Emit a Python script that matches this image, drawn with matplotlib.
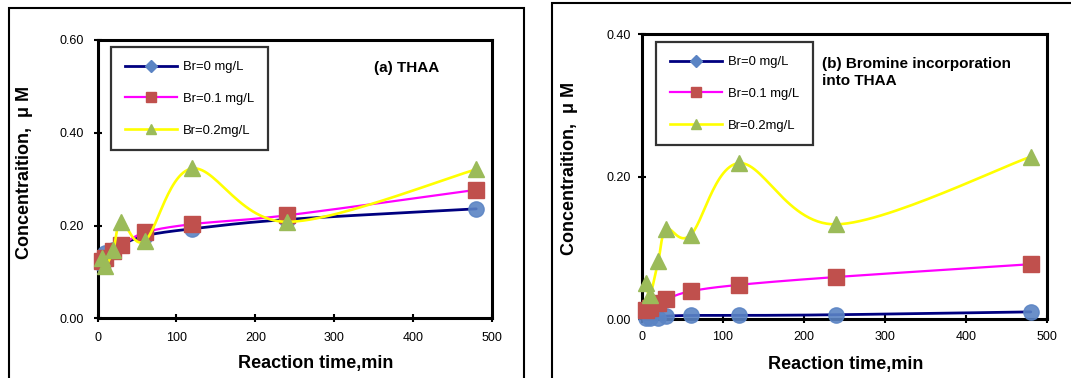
import numpy as np
import matplotlib
matplotlib.use('Agg')
import matplotlib.pyplot as plt
from matplotlib.lines import Line2D
from matplotlib.patches import Rectangle

plt.rcParams['font.family'] = ['Liberation Sans', 'DejaVu Sans']

# ---------------- data ----------------
times = [5, 10, 20, 30, 60, 120, 240, 480]
series_labels = ['Br=0 mg/L', 'Br=0.1 mg/L', 'Br=0.2mg/L']

thaa_br0 = [0.118, 0.140, 0.148, 0.158, 0.178, 0.193, 0.213, 0.236]
thaa_br01 = [0.123, 0.130, 0.146, 0.157, 0.185, 0.203, 0.222, 0.277]
thaa_br02 = [0.129, 0.113, 0.148, 0.208, 0.167, 0.323, 0.208, 0.321]

binc_br0 = [0.001, 0.001, 0.002, 0.004, 0.005, 0.005, 0.006, 0.010]
binc_br01 = [0.013, 0.015, 0.022, 0.028, 0.039, 0.048, 0.059, 0.077]
binc_br02 = [0.050, 0.034, 0.081, 0.126, 0.118, 0.219, 0.133, 0.228]

xticks = [0, 100, 200, 300, 400, 500]
yticks_a = [0.0, 0.2, 0.4, 0.6]
yticks_b = [0.0, 0.2, 0.4]

# ---------------- styles ----------------
line_colors = ['#000080', '#FF00FF', '#FFFF00']
line_widths = [2.0, 1.6, 1.9]
markers = ['o', 's', '^']
marker_colors = ['#5B84C4', '#C0504D', '#9BBB59']
marker_sizes = [11, 11, 12]
legend_markers = ['D', 's', '^']
legend_msizes = [6, 7, 7.5]

W, H = 1071, 378
fig = plt.figure(figsize=(W / 100, H / 100), dpi=100)


def fx(px):
    return px / W


def fy(py):
    return 1 - py / H


def smooth(ax, x, y, n=30):
    trans = ax.transData
    pts = trans.transform(np.column_stack([x, y]))
    P = np.vstack([pts[0], pts, pts[-1]])
    out = [pts[0]]
    tt = np.linspace(0, 1, n)[1:]
    for i in range(1, len(P) - 2):
        p0, p1, p2, p3 = P[i - 1], P[i], P[i + 1], P[i + 2]
        c1 = p1 + (p2 - p0) / 6
        c2 = p2 - (p3 - p1) / 6
        for t in tt:
            b = ((1 - t) ** 3) * p1 + 3 * ((1 - t) ** 2) * t * c1 + 3 * (1 - t) * t ** 2 * c2 + t ** 3 * p2
            out.append(b)
    out = np.array(out)
    d = trans.inverted().transform(out)
    return d[:, 0], d[:, 1]


def make_panel(box, ylim, yticks, data, ypad, xpad, title, title_xy, leg_anchor):
    l, t, r, b = box
    ax = fig.add_axes([fx(l), fy(b), fx(r) - fx(l), fy(t) - fy(b)])
    ax.set_xlim(0, 500)
    ax.set_ylim(*ylim)
    ax.set_xticks(xticks)
    ax.set_yticks(yticks)
    ax.set_yticklabels([f'{v:.2f}' for v in yticks])
    for s in ax.spines.values():
        s.set_linewidth(2.2)
        s.set_color('black')
    ax.tick_params(direction='inout', length=6, width=1.5, labelsize=9, colors='black')
    ax.tick_params(axis='y', pad=ypad)
    ax.tick_params(axis='x', pad=xpad)
    for i, vals in enumerate(data):
        sx, sy = smooth(ax, times, vals)
        ax.plot(sx, sy, color=line_colors[i], lw=line_widths[i], zorder=2 + i * 2, solid_capstyle='round')
        ax.plot(times, vals, linestyle='none', marker=markers[i], ms=marker_sizes[i],
                mfc=marker_colors[i], mec=marker_colors[i], alpha=0.9 if i == 0 else 1.0,
                zorder=3 + i * 2, clip_on=False)
    handles = [Line2D([0], [0], color=line_colors[i], lw=line_widths[i], marker=legend_markers[i],
                      ms=legend_msizes[i], mfc=marker_colors[i], mec=marker_colors[i])
               for i in range(3)]
    leg = ax.legend(handles, series_labels, loc='upper left', bbox_to_anchor=leg_anchor,
                    borderaxespad=0, frameon=True, fancybox=False, fontsize=9.4,
                    handlelength=4.0, handletextpad=0.45, labelspacing=1.5,
                    borderpad=1.05, edgecolor='black')
    leg.get_frame().set_linewidth(1.6)
    leg.set_zorder(20)
    ax.text(title_xy[0], title_xy[1], title, transform=ax.transAxes, fontsize=11,
            fontweight='bold', ha='left', va='center', linespacing=1.2)
    return ax


# panel (a)
make_panel((97.6, 40, 492, 318.3), (0, 0.6), yticks_a, [thaa_br0, thaa_br01, thaa_br02],
           ypad=7.2, xpad=6.6, title='(a) THAA', title_xy=(0.70, 0.898),
           leg_anchor=(0.034, 0.974))
# panel (b)
make_panel((642, 34.3, 1047, 319), (0, 0.4), yticks_b, [binc_br0, binc_br01, binc_br02],
           ypad=5.0, xpad=6.0, title='(b) Bromine incorporation\ninto THAA',
           title_xy=(0.444, 0.866), leg_anchor=(0.0346, 0.972))

# axis labels
fig.text(fx(25), fy(172.5), 'Concentraition,  \u03bc M', rotation=90, fontsize=13,
         fontweight='bold', ha='center', va='center')
fig.text(fx(315.8), fy(363.3), 'Reaction time,min', fontsize=13, fontweight='bold',
         ha='center', va='center')
fig.text(fx(569), fy(168.3), 'Concentraition,  \u03bc M', rotation=90, fontsize=13,
         fontweight='bold', ha='center', va='center')
fig.text(fx(845.4), fy(365), 'Reaction time,min', fontsize=13, fontweight='bold',
         ha='center', va='center')

# outer frames
fig.patches.append(Rectangle((fx(8.5), fy(420)), fx(524) - fx(8.5), fy(8.3) - fy(420),
                             transform=fig.transFigure, fill=False, edgecolor='black',
                             linewidth=1.5, clip_on=False))
fig.patches.append(Rectangle((fx(552), fy(420)), fx(1120) - fx(552), fy(3.3) - fy(420),
                             transform=fig.transFigure, fill=False, edgecolor='black',
                             linewidth=1.5, clip_on=False))

fig.savefig('out.png', dpi=100)
